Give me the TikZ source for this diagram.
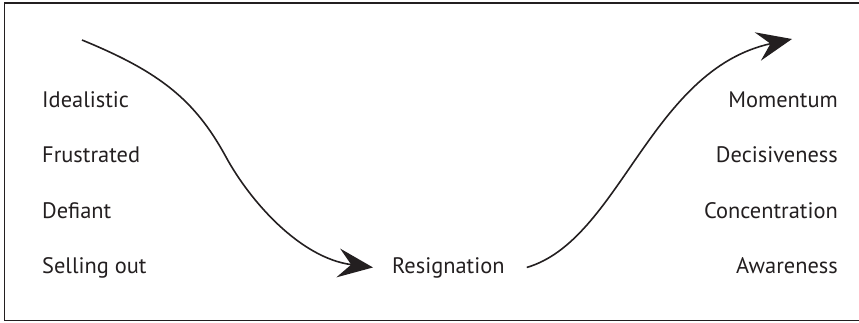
\documentclass[tikz,border=0pt]{standalone}
\usepackage{fontspec}
\setmainfont{PT Sans}
\usetikzlibrary{arrows.meta}
\definecolor{ink}{HTML}{231F20}
\begin{document}
\begin{tikzpicture}[x=1bp,y=-1bp,
    word/.style={inner sep=0pt,font=\fontsize{22.5}{26}\selectfont,text=ink},
    swing/.style={draw=ink,line width=1.6bp,-{Stealth[length=35bp,width=29bp,inset=13bp]}}]
    \useasboundingbox (0,0) rectangle (859,322);

    % Frame
    \draw[ink,line width=1.5bp] (870,3) -- (4.5,3) -- (4.5,320.5) -- (870,320.5);

    % Left column
    \node[word,anchor=base west] (idealistic) at (42,107) {Idealistic};
    \node[word,anchor=base west] (frustrated) at (42,162) {Frustrated};
    \node[word,anchor=base west] (defiant) at (42,218) {Defiant};
    \node[word,anchor=base west] (sellout) at (42,273) {Selling out};

    % Bottom
    \node[word,anchor=base west] (resign) at (392,273) {Resignation};

    % Right column
    \node[word,anchor=base east] (momentum) at (838,107) {Momentum};
    \node[word,anchor=base east] (decisive) at (838,162) {Decisiveness};
    \node[word,anchor=base east] (concentr) at (838,218) {Concentration};
    \node[word,anchor=base east] (aware) at (838,273) {Awareness};

    % Curves
    \coordinate (start) at (82,40);
    \coordinate (finish) at (792,39);
    \draw[swing] (start) .. controls (160,72) and (195,100) .. (226,157)
        .. controls (250,201) and (300,258) .. ([xshift=-19bp]resign.west);
    \draw[swing] ([xshift=22bp]resign.east) .. controls (620,240) and (650,70) .. (finish);
\end{tikzpicture}
\end{document}
